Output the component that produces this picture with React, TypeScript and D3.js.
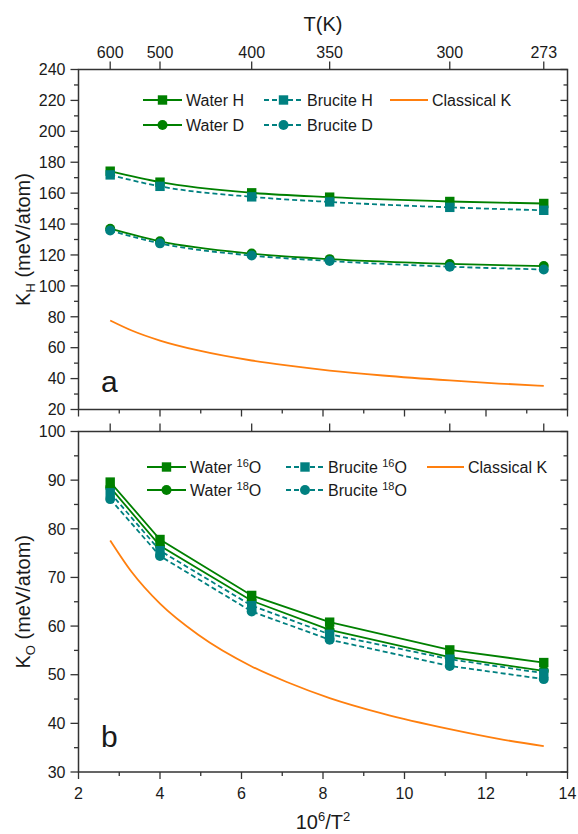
import React from "react";
import * as d3 from "d3";

// ---- data ----
const temps = [600, 500, 400, 350, 300, 273];
const waterH = [174.2, 167.1, 160.2, 157.4, 154.6, 153.3];
const bruciteH = [171.8, 164.4, 157.6, 154.3, 150.8, 148.9];
const waterD = [137.0, 128.8, 120.9, 117.3, 114.2, 112.8];
const bruciteD = [135.8, 127.5, 119.6, 116.1, 112.4, 110.6];
const water16O = [89.6, 77.8, 66.3, 60.8, 55.1, 52.5];
const water18O = [88.5, 76.5, 65.2, 59.2, 53.6, 50.8];
const brucite16O = [87.4, 75.5, 64.2, 58.3, 53.2, 50.3];
const brucite18O = [86.1, 74.4, 63.0, 57.2, 51.8, 49.1];
const classicalT = [600, 550, 500, 450, 400, 375, 350, 325, 300, 285, 273];
const classicalK = [77.6, 71.1, 64.6, 58.2, 51.7, 48.5, 45.2, 42.0, 38.8, 36.8, 35.3];
const xTicks = [2, 4, 6, 8, 10, 12, 14];
const xMinor = [3, 5, 7, 9, 11, 13];
const yTicksA = [20, 40, 60, 80, 100, 120, 140, 160, 180, 200, 220, 240];
const yMinorA = [30, 50, 70, 90, 110, 130, 150, 170, 190, 210, 230];
const yTicksB = [30, 40, 50, 60, 70, 80, 90, 100];
const yMinorB = [35, 45, 55, 65, 75, 85, 95];

const GREEN = "#008000";
const TEAL = "#008080";
const ORANGE = "#ff7f0e";
const AXIS = "#333333";
const TXT = "#1a1a1a";
const FONT = "'Liberation Sans', Arial, sans-serif";
const LW = 1.8;

const L = 78.5, R = 567.5;
const x = d3.scaleLinear().domain([2, 14]).range([L, R]);
const invT2 = (t: number) => 1e6 / (t * t);

const yA = d3.scaleLinear().domain([20, 240]).range([409.5, 69.5]);
const yB = d3.scaleLinear().domain([30, 100]).range([772, 431.5]);

type Series = { vals: number[]; color: string; dash?: string; marker: "sq" | "ci" };

function Marker({ cx, cy, type, color }: { cx: number; cy: number; type: string; color: string }) {
  if (type === "sq") return <rect x={cx - 4.7} y={cy - 4.7} width={9.4} height={9.4} fill={color} />;
  return <circle cx={cx} cy={cy} r={5} fill={color} />;
}

function Panel({ y, ticks, minor, series, label, letter, letterY, showTopLabels, showBottomLabels, curve }: any) {
  const [y0, y1] = y.range(); // bottom, top
  const lineGen = d3
    .line<[number, number]>()
    .x((d) => x(d[0]))
    .y((d) => y(d[1]))
    .curve(curve);
  const classical = classicalT.map((t, i) => [invT2(t), classicalK[i]] as [number, number]);
  const mid = (y0 + y1) / 2;
  return (
    <g>
      <path d={d3.line<[number, number]>().x((d) => x(d[0])).y((d) => y(d[1])).curve(d3.curveMonotoneX)(classical) || ""} fill="none" stroke={ORANGE} strokeWidth={LW} />
      {series.map((s: Series, i: number) => {
        const pts = temps.map((t, j) => [invT2(t), s.vals[j]] as [number, number]);
        return (
          <g key={i}>
            <path d={lineGen(pts) || ""} fill="none" stroke={s.color} strokeWidth={LW} strokeDasharray={s.dash} />
            {pts.map((p, j) => (
              <Marker key={j} cx={x(p[0])} cy={y(p[1])} type={s.marker} color={s.color} />
            ))}
          </g>
        );
      })}
      <rect x={L} y={y1} width={R - L} height={y0 - y1} fill="none" stroke={AXIS} strokeWidth={1.5} />
      {ticks.map((t: number) => (
        <g key={"l" + t}>
          <line x1={L - 8} x2={L} y1={y(t)} y2={y(t)} stroke={AXIS} strokeWidth={1.3} />
          <line x1={R - 7} x2={R} y1={y(t)} y2={y(t)} stroke={AXIS} strokeWidth={1.3} />
          <text x={L - 13} y={y(t)} dy="0.36em" textAnchor="end" fontSize={16} fontFamily={FONT} fill={TXT}>
            {t}
          </text>
        </g>
      ))}
      {minor.map((t: number) => (
        <g key={"m" + t}>
          <line x1={L - 4.5} x2={L} y1={y(t)} y2={y(t)} stroke={AXIS} strokeWidth={1.3} />
          <line x1={R - 4} x2={R} y1={y(t)} y2={y(t)} stroke={AXIS} strokeWidth={1.3} />
        </g>
      ))}
      {temps.map((t) => (
        <g key={"t" + t}>
          <line x1={x(invT2(t))} x2={x(invT2(t))} y1={y1} y2={y1 - 8} stroke={AXIS} strokeWidth={1.3} />
          {showTopLabels && (
            <text x={x(invT2(t))} y={y1 - 12} textAnchor="middle" fontSize={16} fontFamily={FONT} fill={TXT}>
              {t}
            </text>
          )}
        </g>
      ))}
      {xTicks.map((v) => (
        <g key={"b" + v}>
          <line x1={x(v)} x2={x(v)} y1={y0} y2={y0 + 7} stroke={AXIS} strokeWidth={1.3} />
          {showBottomLabels && (
            <text x={x(v)} y={y0 + 27} textAnchor="middle" fontSize={16} fontFamily={FONT} fill={TXT}>
              {v}
            </text>
          )}
        </g>
      ))}
      {xMinor.map((v) => (
        <line key={"bm" + v} x1={x(v)} x2={x(v)} y1={y0} y2={y0 + 4} stroke={AXIS} strokeWidth={1.3} />
      ))}
      <text transform={`translate(30,${mid}) rotate(-90)`} textAnchor="middle" fontSize={20} fontFamily={FONT} fill={TXT}>
        <tspan>K</tspan>
        <tspan fontSize={13} dy={5}>{label}</tspan>
        <tspan dy={-5}> (meV/atom)</tspan>
      </text>
      <text x={101} y={letterY} fontSize={30} fontFamily={FONT} fill={TXT}>
        {letter}
      </text>
    </g>
  );
}

function LegendItem({ x1, x2, y, color, dash, marker, children }: any) {
  return (
    <g>
      <line x1={x1} x2={x2} y1={y} y2={y} stroke={color} strokeWidth={LW} strokeDasharray={dash} />
      {marker && <Marker cx={(x1 + x2) / 2} cy={y} type={marker} color={color} />}
      <text x={x2 + 4} y={y} dy="0.36em" fontSize={16} fontFamily={FONT} fill={TXT}>
        {children}
      </text>
    </g>
  );
}

export default function App() {
  const seriesA: Series[] = [
    { vals: waterH, color: GREEN, marker: "sq" },
    { vals: waterD, color: GREEN, marker: "ci" },
    { vals: bruciteH, color: TEAL, marker: "sq", dash: "5,3" },
    { vals: bruciteD, color: TEAL, marker: "ci", dash: "5,3" },
  ];
  const seriesB: Series[] = [
    { vals: water16O, color: GREEN, marker: "sq" },
    { vals: water18O, color: GREEN, marker: "ci" },
    { vals: brucite16O, color: TEAL, marker: "sq", dash: "5,3" },
    { vals: brucite18O, color: TEAL, marker: "ci", dash: "5,3" },
  ];
  const sup = (s: string) => (
    <>
      <tspan fontSize={11} dy={-6}>{s}</tspan>
      <tspan dy={6}>O</tspan>
    </>
  );
  return (
    <svg width={578} height={834} style={{ position: "absolute", left: 0, top: 0, background: "#fff" }}>
      <rect width={578} height={834} fill="#fff" />
      <text x={(L + R) / 2} y={31} textAnchor="middle" fontSize={20} fontFamily={FONT} fill={TXT}>
        T(K)
      </text>
      <Panel y={yA} ticks={yTicksA} minor={yMinorA} series={seriesA} label="H" letter="a" letterY={392} showTopLabels={true} showBottomLabels={false} curve={d3.curveMonotoneX} />
      <Panel y={yB} ticks={yTicksB} minor={yMinorB} series={seriesB} label="O" letter="b" letterY={747} showTopLabels={false} showBottomLabels={true} curve={d3.curveLinear} />
      <LegendItem x1={143} x2={182} y={100} color={GREEN} marker="sq">Water H</LegendItem>
      <LegendItem x1={143} x2={182} y={125} color={GREEN} marker="ci">Water D</LegendItem>
      <LegendItem x1={264} x2={303} y={100} color={TEAL} marker="sq" dash="5,3">Brucite H</LegendItem>
      <LegendItem x1={264} x2={303} y={125} color={TEAL} marker="ci" dash="5,3">Brucite D</LegendItem>
      <LegendItem x1={390} x2={428} y={100} color={ORANGE}>Classical K</LegendItem>
      <LegendItem x1={147} x2={186} y={467} color={GREEN} marker="sq"><tspan>Water </tspan>{sup("16")}</LegendItem>
      <LegendItem x1={147} x2={186} y={490} color={GREEN} marker="ci"><tspan>Water </tspan>{sup("18")}</LegendItem>
      <LegendItem x1={286} x2={324} y={467} color={TEAL} marker="sq" dash="5,3"><tspan>Brucite </tspan>{sup("16")}</LegendItem>
      <LegendItem x1={286} x2={324} y={490} color={TEAL} marker="ci" dash="5,3"><tspan>Brucite </tspan>{sup("18")}</LegendItem>
      <LegendItem x1={427} x2={464} y={467} color={ORANGE}>Classical K</LegendItem>
      <text x={(L + R) / 2} y={829} textAnchor="middle" fontSize={20} fontFamily={FONT} fill={TXT}>
        <tspan>10</tspan>
        <tspan fontSize={13} dy={-8}>6</tspan>
        <tspan dy={8}>/T</tspan>
        <tspan fontSize={13} dy={-8}>2</tspan>
      </text>
    </svg>
  );
}
